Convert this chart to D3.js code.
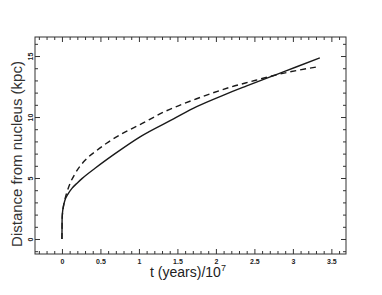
<!DOCTYPE html>
<html lang="en">
<head>
    <meta charset="UTF-8">
    <title>Distance from nucleus</title>
    <script src="https://d3js.org/d3.v7.min.js"></script>
    <style>
        body { margin: 0; background: #fff; }
        svg text { font-family: "Liberation Sans", Arial, sans-serif; fill: #222; }
        .tick text { font-size: 7px; font-weight: bold; }
    </style>
</head>
<body>
    <svg id="canvas" width="382" height="295"></svg>
    <script>
        // solid curve (t in 1e7 yr, distance in kpc)
        let solidT = [0, 0.002, 0.008, 0.02, 0.04, 0.08, 0.13, 0.2, 0.26, 0.43, 0.69, 1.02, 1.45, 1.75, 2.1, 2.4, 2.75, 3.05, 3.35];
        let solidD = [0, 1.6, 2.2, 2.7, 3.2, 3.7, 4.15, 4.6, 4.95, 5.8, 7.0, 8.4, 9.85, 10.85, 11.8, 12.55, 13.4, 14.12, 14.85];

        // dashed curve
        let dashT = [0, 0.004, 0.015, 0.03, 0.09, 0.17, 0.3, 0.45, 0.58, 0.8, 1.02, 1.32, 1.75, 2.19, 2.45, 2.75, 2.96, 3.35];
        let dashD = [0, 1.8, 2.5, 3.0, 4.3, 5.35, 6.45, 7.25, 7.85, 8.7, 9.4, 10.4, 11.5, 12.45, 12.9, 13.4, 13.7, 14.15];

        let xMajor = [0, 0.5, 1, 1.5, 2, 2.5, 3, 3.5];
        let yMajor = [0, 5, 10, 15];

        let plotLeft = 35, plotRight = 346, plotTop = 37, plotBottom = 254;
        let svg = d3.select("#canvas");

        let x = d3.scaleLinear().domain([-0.35, 3.69]).range([plotLeft, plotRight]);
        let y = d3.scaleLinear().domain([-1.23, 16.56]).range([plotBottom, plotTop]);

        let xMinor = d3.range(-3, 37).map(i => i / 10).filter(v => xMajor.indexOf(v) < 0);
        let yMinor = d3.range(-1, 17).filter(v => yMajor.indexOf(v) < 0);

        let clean = g => g.select(".domain").remove();

        // bottom ticks + labels
        svg.append("g").attr("transform", `translate(0,${plotBottom})`)
            .call(d3.axisBottom(x).tickValues(xMajor).tickSize(-5).tickPadding(5).tickFormat(d => d))
            .call(clean);
        svg.append("g").attr("transform", `translate(0,${plotBottom})`)
            .call(d3.axisBottom(x).tickValues(xMinor).tickSize(-3).tickFormat(""))
            .call(clean);
        // top ticks
        svg.append("g").attr("transform", `translate(0,${plotTop})`)
            .call(d3.axisTop(x).tickValues(xMajor).tickSize(-5).tickFormat(""))
            .call(clean);
        svg.append("g").attr("transform", `translate(0,${plotTop})`)
            .call(d3.axisTop(x).tickValues(xMinor).tickSize(-3).tickFormat(""))
            .call(clean);

        // left ticks + rotated labels
        svg.append("g").attr("transform", `translate(${plotLeft},0)`)
            .call(d3.axisLeft(y).tickValues(yMajor).tickSize(-5).tickFormat(d => d))
            .call(clean)
            .selectAll("text")
            .attr("x", null).attr("dy", null)
            .attr("text-anchor", "middle")
            .attr("dominant-baseline", "central")
            .attr("transform", "translate(-4.5,0) rotate(-90)");
        svg.append("g").attr("transform", `translate(${plotLeft},0)`)
            .call(d3.axisLeft(y).tickValues(yMinor).tickSize(-3).tickFormat(""))
            .call(clean);
        // right ticks
        svg.append("g").attr("transform", `translate(${plotRight},0)`)
            .call(d3.axisRight(y).tickValues(yMajor).tickSize(-5).tickFormat(""))
            .call(clean);
        svg.append("g").attr("transform", `translate(${plotRight},0)`)
            .call(d3.axisRight(y).tickValues(yMinor).tickSize(-3).tickFormat(""))
            .call(clean);

        svg.selectAll(".tick line").attr("stroke", "#333");

        // frame
        svg.append("rect")
            .attr("x", plotLeft).attr("y", plotTop)
            .attr("width", plotRight - plotLeft).attr("height", plotBottom - plotTop)
            .attr("fill", "none").attr("stroke", "#333").attr("stroke-width", 1);

        let line = d3.line().x(d => x(d[0])).y(d => y(d[1])).curve(d3.curveMonotoneX);

        svg.append("path")
            .datum(d3.zip(solidT, solidD))
            .attr("d", line)
            .attr("fill", "none").attr("stroke", "#1a1a1a").attr("stroke-width", 1.4);

        svg.append("path")
            .datum(d3.zip(dashT, dashD))
            .attr("d", line)
            .attr("fill", "none").attr("stroke", "#1a1a1a").attr("stroke-width", 1.4)
            .attr("stroke-dasharray", "6,4");

        // axis titles
        let xt = svg.append("text")
            .attr("x", 188).attr("y", 277)
            .attr("text-anchor", "middle")
            .style("font-size", "14px");
        xt.append("tspan").text("t (years)/10");
        xt.append("tspan").text("7").attr("dy", -6).style("font-size", "9px");

        svg.append("text")
            .attr("transform", `translate(22,154) rotate(-90)`)
            .attr("text-anchor", "middle")
            .style("font-size", "15px")
            .style("fill", "#333")
            .text("Distance from nucleus (kpc)");
    </script>
</body>
</html>
